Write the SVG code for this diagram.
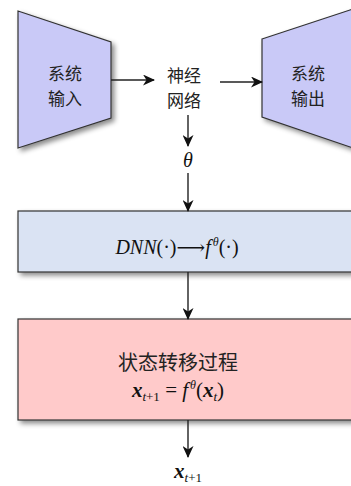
<svg xmlns="http://www.w3.org/2000/svg" width="351" height="486" viewBox="0 0 351 486">
<style>
.cn{font-family:"Noto Sans CJK SC","Noto Sans",sans-serif;font-size:17px;fill:#222;text-anchor:middle}
.m{font-family:"Liberation Serif","DejaVu Serif",serif;font-size:20px;fill:#111}
.it{font-style:italic}
.bi{font-style:italic;font-weight:bold}
.edge{stroke:#222;stroke-width:1.4;fill:none;marker-end:url(#ah)}
.trap{fill:#c9c9f7;stroke:#333;stroke-width:1.2}
</style>
<defs>
<marker id="ah" viewBox="0 0 12 11" refX="11" refY="5.5" markerWidth="12" markerHeight="11" markerUnits="userSpaceOnUse" orient="auto">
<path d="M0,0 L12,5.5 L0,11 L3.5,5.5 z" fill="#111"/>
</marker>
<filter id="sh" x="-10%" y="-10%" width="130%" height="140%">
<feDropShadow dx="3" dy="3" stdDeviation="2.5" flood-color="#000" flood-opacity="0.45"/>
</filter>
</defs>
<g id="input">
<polygon class="trap" filter="url(#sh)" points="18,11 111,42 111,118 18,148"/>
<text class="cn" x="65" y="80">系统</text>
<text class="cn" x="65" y="105">输入</text>
</g>
<g id="nn">
<text class="cn" x="184" y="82">神经</text>
<text class="cn" x="184" y="107">网络</text>
</g>
<g id="output">
<polygon class="trap" filter="url(#sh)" points="262,39 356,8 356,149 262,117"/>
<text class="cn" x="308" y="80">系统</text>
<text class="cn" x="308" y="105">输出</text>
</g>
<g id="theta">
<text class="m it" x="188" y="167" text-anchor="middle">θ</text>
</g>
<g id="dnn">
<rect x="18" y="211" width="345" height="61" fill="#dae3f3" stroke="#333" stroke-width="1.2" filter="url(#sh)"/>
<text class="m" x="177" y="254" text-anchor="middle"><tspan class="it">DNN</tspan>(·)⟶<tspan class="it">f</tspan><tspan class="it" font-size="12" dx="2" dy="-8">θ</tspan><tspan dy="8">(·)</tspan></text>
</g>
<g id="state">
<rect x="18" y="319" width="345" height="101" fill="#ffcaca" stroke="#333" stroke-width="1.2" filter="url(#sh)"/>
<text class="cn" x="178" y="370" style="font-size:20px">状态转移过程</text>
<text class="m" x="178" y="397" text-anchor="middle" style="font-size:21px"><tspan class="bi">x</tspan><tspan class="it" font-size="13" dy="4">t</tspan><tspan font-size="13">+1</tspan><tspan dy="-4"> = </tspan><tspan class="it">f</tspan><tspan class="it" font-size="12" dx="2" dy="-8">θ</tspan><tspan dy="8">(</tspan><tspan class="bi">x</tspan><tspan class="it" font-size="13" dy="4">t</tspan><tspan dy="-4">)</tspan></text>
</g>
<g id="out">
<text class="m" x="188" y="478" text-anchor="middle" style="font-size:21px"><tspan class="bi">x</tspan><tspan class="it" font-size="13" dy="4">t</tspan><tspan font-size="13">+1</tspan></text>
</g>
<g id="connectors">
<line class="edge" x1="111" y1="80" x2="154" y2="80"/>
<line class="edge" x1="220" y1="82" x2="262" y2="82"/>
<line class="edge" x1="188" y1="115" x2="188" y2="146"/>
<line class="edge" x1="188" y1="173" x2="188" y2="211"/>
<line class="edge" x1="188" y1="272" x2="188" y2="319"/>
<line class="edge" x1="188" y1="420" x2="188" y2="457"/>
</g>
</svg>
